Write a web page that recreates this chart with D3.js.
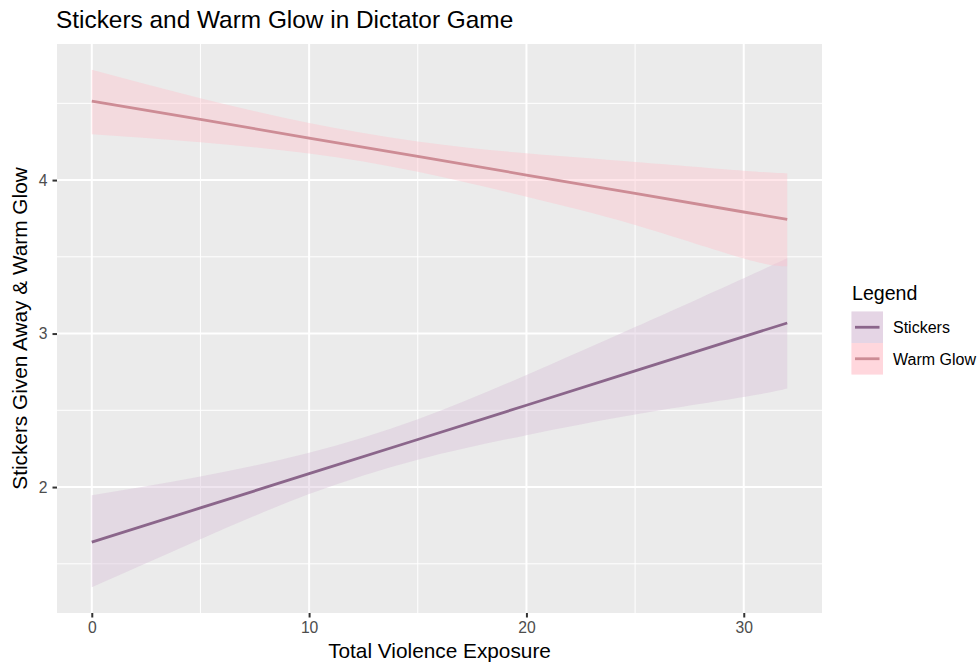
<!DOCTYPE html>
<html>
<head>
<meta charset="utf-8">
<script src="https://cdn.jsdelivr.net/npm/d3@7"></script>
<style>
  html, body { margin: 0; padding: 0; background: #ffffff; }
  svg { display: block; }
  text { font-family: "Liberation Sans", Arial, Helvetica, sans-serif; }
</style>
</head>
<body>
<svg id="chart" width="979" height="663"></svg>
<script>
// ---- data ----
const xValues      = [0, 5, 10, 15, 20, 25, 30, 32];
const stickersFit  = [1.641, 1.864, 2.087, 2.310, 2.533, 2.757, 2.980, 3.069];
const stickersLow  = [1.348, 1.660, 1.954, 2.178, 2.338, 2.473, 2.587, 2.642];
const stickersHigh = [1.946, 2.068, 2.224, 2.442, 2.730, 3.042, 3.361, 3.490];
const warmFit      = [4.515, 4.395, 4.274, 4.154, 4.033, 3.913, 3.792, 3.744];
const warmLow      = [4.298, 4.246, 4.173, 4.054, 3.891, 3.707, 3.489, 3.439];
const warmHigh     = [4.718, 4.533, 4.372, 4.252, 4.174, 4.118, 4.061, 4.044];
const seriesNames  = ["Stickers", "Warm Glow"];
const xTicks       = [0, 10, 20, 30];
const xMinor       = [5, 15, 25];
const yTicks       = [2, 3, 4];
const yMinor       = [1.5, 2.5, 3.5, 4.5];
const titleText    = "Stickers and Warm Glow in Dictator Game";
const xLabel       = "Total Violence Exposure";
const yLabel       = "Stickers Given Away & Warm Glow";
const legendTitle  = "Legend";

// ---- styles ----
const lineColors = { "Stickers": "#8B668B", "Warm Glow": "#CD8C95" };
const fillColors = { "Stickers": "thistle", "Warm Glow": "pink" };
const ribbonAlpha = 0.4;

const svg = d3.select("#chart");
const panel = { left: 57, right: 822, top: 44, bottom: 613 };

const series = [
  { name: "Stickers", fit: stickersFit, low: stickersLow, high: stickersHigh },
  { name: "Warm Glow", fit: warmFit, low: warmLow, high: warmHigh }
];

// ggplot-like 5% expansion
const xExt = d3.extent(xValues);
const xPad = (xExt[1] - xExt[0]) * 0.05;
const allY = stickersLow.concat(stickersHigh, warmLow, warmHigh);
const yExt = d3.extent(allY);
const yPad = (yExt[1] - yExt[0]) * 0.05;

const x = d3.scaleLinear().domain([xExt[0] - xPad, xExt[1] + xPad]).range([panel.left, panel.right]);
const y = d3.scaleLinear().domain([yExt[0] - yPad, yExt[1] + yPad]).range([panel.bottom, panel.top]);

// panel background
svg.append("rect")
  .attr("x", panel.left).attr("y", panel.top)
  .attr("width", panel.right - panel.left).attr("height", panel.bottom - panel.top)
  .attr("fill", "#EBEBEB");

const grid = svg.append("g");
grid.selectAll(".xminor").data(xMinor).enter().append("line")
  .attr("x1", d => x(d)).attr("x2", d => x(d))
  .attr("y1", panel.top).attr("y2", panel.bottom)
  .attr("stroke", "#ffffff").attr("stroke-width", 1);
grid.selectAll(".yminor").data(yMinor).enter().append("line")
  .attr("y1", d => y(d)).attr("y2", d => y(d))
  .attr("x1", panel.left).attr("x2", panel.right)
  .attr("stroke", "#ffffff").attr("stroke-width", 1);
grid.selectAll(".xmajor").data(xTicks).enter().append("line")
  .attr("x1", d => x(d)).attr("x2", d => x(d))
  .attr("y1", panel.top).attr("y2", panel.bottom)
  .attr("stroke", "#ffffff").attr("stroke-width", 2);
grid.selectAll(".ymajor").data(yTicks).enter().append("line")
  .attr("y1", d => y(d)).attr("y2", d => y(d))
  .attr("x1", panel.left).attr("x2", panel.right)
  .attr("stroke", "#ffffff").attr("stroke-width", 2);

// ribbons
const area = d3.area()
  .x((d, i) => x(xValues[i]))
  .y0(d => y(d[0]))
  .y1(d => y(d[1]))
  .curve(d3.curveNatural);
const line = d3.line()
  .x((d, i) => x(xValues[i]))
  .y(d => y(d));

series.forEach(s => {
  const pts = s.low.map((v, i) => [v, s.high[i]]);
  svg.append("path")
    .attr("d", area(pts))
    .attr("fill", fillColors[s.name])
    .attr("fill-opacity", ribbonAlpha);
});
series.forEach(s => {
  svg.append("path")
    .attr("d", line(s.fit))
    .attr("fill", "none")
    .attr("stroke", lineColors[s.name])
    .attr("stroke-width", 2.8);
});

// axes
const xAxis = d3.axisBottom(x).tickValues(xTicks).tickSize(4.5).tickPadding(4).tickFormat(d3.format("d"));
const gx = svg.append("g").attr("transform", `translate(0,${panel.bottom})`).call(xAxis);
gx.select(".domain").remove();
gx.selectAll(".tick line").attr("stroke", "#333333").attr("stroke-width", 2);
gx.selectAll(".tick text").attr("fill", "#4D4D4D").attr("font-size", "15.7px")
  .attr("font-family", "'Liberation Sans', Arial, sans-serif");

const yAxis = d3.axisLeft(y).tickValues(yTicks).tickSize(4.5).tickPadding(5).tickFormat(d3.format("d"));
const gy = svg.append("g").attr("transform", `translate(${panel.left},0)`).call(yAxis);
gy.select(".domain").remove();
gy.selectAll(".tick line").attr("stroke", "#333333").attr("stroke-width", 2);
gy.selectAll(".tick text").attr("fill", "#4D4D4D").attr("font-size", "15.7px")
  .attr("font-family", "'Liberation Sans', Arial, sans-serif");

// title & axis labels
svg.append("text")
  .attr("x", 56).attr("y", 28)
  .attr("font-size", "24.4px").attr("fill", "#000000")
  .text(titleText);

svg.append("text")
  .attr("x", (panel.left + panel.right) / 2).attr("y", 657.5)
  .attr("text-anchor", "middle")
  .attr("font-size", "20.8px").attr("fill", "#000000")
  .text(xLabel);

svg.append("text")
  .attr("transform", `translate(27,${(panel.top + panel.bottom) / 2}) rotate(-90)`)
  .attr("text-anchor", "middle")
  .attr("font-size", "20.8px").attr("fill", "#000000")
  .text(yLabel);

// legend
const legend = svg.append("g");
legend.append("text")
  .attr("x", 852).attr("y", 299.5)
  .attr("font-size", "19.6px").attr("fill", "#000000")
  .text(legendTitle);

const keyX = 851.5, keyY0 = 311.5, keyW = 31.5, keyH = 31.5;
seriesNames.forEach((name, i) => {
  const ky = keyY0 + i * keyH;
  legend.append("rect")
    .attr("x", keyX).attr("y", ky).attr("width", keyW).attr("height", keyH)
    .attr("fill", "#ffffff");
  // fill drawn twice (ribbon + smooth layers merged in legend)
  for (let k = 0; k < 2; k++) {
    legend.append("rect")
      .attr("x", keyX).attr("y", ky).attr("width", keyW).attr("height", keyH)
      .attr("fill", fillColors[name]).attr("fill-opacity", ribbonAlpha);
  }
  legend.append("line")
    .attr("x1", keyX + 3.5).attr("x2", keyX + keyW - 3.5)
    .attr("y1", ky + keyH / 2).attr("y2", ky + keyH / 2)
    .attr("stroke", lineColors[name]).attr("stroke-width", 2.8);
  legend.append("text")
    .attr("x", 893).attr("y", ky + keyH / 2)
    .attr("dy", "0.36em")
    .attr("font-size", "16px").attr("fill", "#000000")
    .text(name);
});
</script>
</body>
</html>
